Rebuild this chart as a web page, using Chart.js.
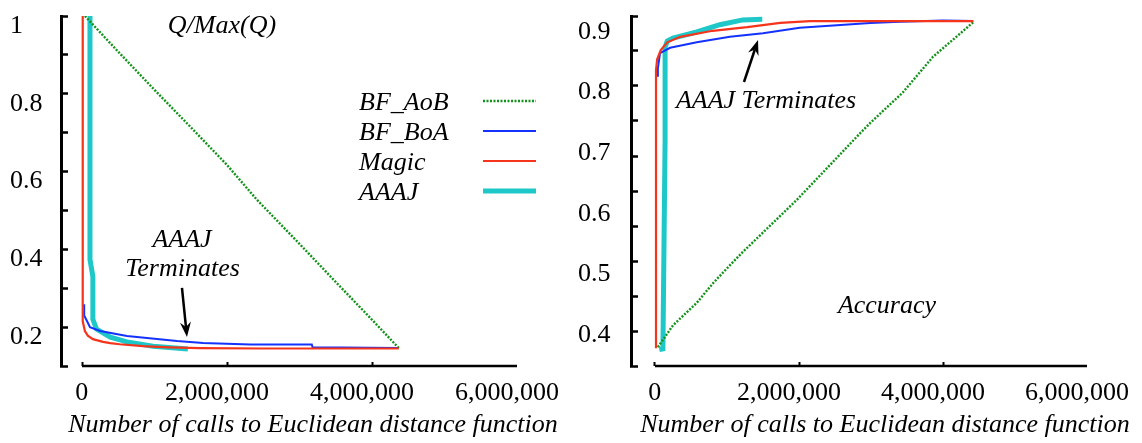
<!DOCTYPE html>
<html lang="en">
<head>
<meta charset="UTF-8">
<title>Q/Max(Q) and Accuracy vs. distance calls</title>
<script src="https://cdn.jsdelivr.net/npm/chart.js"></script>
<style>
  body { margin: 0; background: #fff; }
  .panel { position: absolute; top: 0; width: 571px; height: 443px; }
  #left { left: 0; }
  #right { left: 571px; }
</style>
</head>
<body>
<div class="panel" id="left"><canvas id="qChart" width="571" height="443"></canvas></div>
<div class="panel" id="right"><canvas id="accChart" width="571" height="443"></canvas></div>
<script>
// ---- Q/Max(Q) panel ----
const aobQCalls = [40000, 500000, 1000000, 1500000, 2000000, 2410000, 3000000, 3500000, 4000000, 4370000];
const aobQ      = [1.0, 0.908, 0.81, 0.714, 0.617, 0.528, 0.414, 0.316, 0.219, 0.146];
const boaQCalls = [30000, 30000, 70000, 110000, 250000, 620000, 1310000, 1670000, 2320000, 3170000, 3180000, 4360000];
const boaQ      = [0.259, 0.23, 0.215, 0.2, 0.19, 0.177, 0.164, 0.159, 0.155, 0.155, 0.148, 0.146];
const magicQCalls = [10000, 10000, 40000, 80000, 150000, 290000, 390000, 520000, 840000, 1200000, 1630000, 2500000, 4370000];
const magicQ      = [1.0, 0.215, 0.19, 0.178, 0.169, 0.162, 0.159, 0.156, 0.151, 0.148, 0.146, 0.145, 0.145];
const aaajQCalls = [110000, 110000, 150000, 150000, 200000, 390000, 620000, 980000, 1460000];
const aaajQ      = [1.0, 0.374, 0.33, 0.22, 0.195, 0.174, 0.162, 0.151, 0.144];

// ---- Accuracy panel ----
const aobAccCalls = [40000, 250000, 580000, 810000, 1040000, 1220000, 1970000, 2850000, 2990000, 3440000, 3860000, 4420000];
const aobAcc      = [0.38, 0.416, 0.453, 0.486, 0.515, 0.537, 0.623, 0.733, 0.75, 0.80, 0.859, 0.916];
const boaAccCalls = [40000, 40000, 70000, 210000, 580000, 1040000, 1500000, 2010000, 2990000, 3400000, 4000000, 4420000];
const boaAcc      = [0.826, 0.84, 0.865, 0.874, 0.883, 0.892, 0.898, 0.907, 0.915, 0.917, 0.919, 0.918];
const magicAccCalls = [14000, 14000, 14000, 30000, 80000, 170000, 350000, 800000, 1280000, 1740000, 2150000, 4420000];
const magicAcc      = [0.378, 0.80, 0.837, 0.855, 0.87, 0.883, 0.892, 0.902, 0.908, 0.915, 0.918, 0.918];
const aaajAccCalls = [60000, 110000, 140000, 140000, 170000, 250000, 580000, 900000, 1220000, 1490000];
const aaajAcc      = [0.376, 0.377, 0.72, 0.875, 0.885, 0.89, 0.90, 0.912, 0.92, 0.921];

// axis ticks
const callTicks = [0, 2000000, 4000000, 6000000];
const qTickMarks = [0.1, 0.2, 0.3, 0.4, 0.5, 0.6, 0.7, 0.8, 0.9, 1.0];
const qTickLabels = [0.2, 0.4, 0.6, 0.8, 1.0];
const accTickLabels = [0.4, 0.5, 0.6, 0.7, 0.8, 0.9];

const serif = "'Liberation Serif', 'Times New Roman', serif";
Chart.defaults.font.family = serif;
Chart.defaults.color = '#000';

const styles = {
  aob:   { label: 'BF_AoB', borderColor: '#12921a', borderWidth: 2.4, borderDash: [2, 1.5], order: 3 },
  boa:   { label: 'BF_BoA', borderColor: '#1432ff', borderWidth: 2, order: 2 },
  magic: { label: 'Magic',  borderColor: '#f5341c', borderWidth: 2.2, order: 1 },
  aaaj:  { label: 'AAAJ',   borderColor: '#1ec8c8', borderWidth: 5, order: 4 }
};

function series(style, xs, ys) {
  return Object.assign({
    data: xs.map((x, i) => ({ x: x, y: ys[i] })),
    pointRadius: 0,
    tension: 0,
    fill: false
  }, style);
}

function drawArrow(ctx, x0, y0, x1, y1) {
  const ang = Math.atan2(y1 - y0, x1 - x0);
  const len = 15, half = 5.5, notch = 10;
  ctx.lineWidth = 2.5;
  ctx.beginPath();
  ctx.moveTo(x0, y0);
  ctx.lineTo(x1 - Math.cos(ang) * notch, y1 - Math.sin(ang) * notch);
  ctx.stroke();
  ctx.beginPath();
  ctx.moveTo(x1, y1);
  ctx.lineTo(x1 - Math.cos(ang) * len - Math.sin(ang) * half, y1 - Math.sin(ang) * len + Math.cos(ang) * half);
  ctx.lineTo(x1 - Math.cos(ang) * notch, y1 - Math.sin(ang) * notch);
  ctx.lineTo(x1 - Math.cos(ang) * len + Math.sin(ang) * half, y1 - Math.sin(ang) * len - Math.cos(ang) * half);
  ctx.closePath();
  ctx.fill();
}

// x axis line from 0 to 6M, notes, arrows and the line-style legend
const notesPlugin = {
  id: 'notes',
  afterDraw(chart, args, opts) {
    const { ctx, chartArea } = chart;
    const x = chart.scales.x, y = chart.scales.y;
    ctx.save();
    ctx.strokeStyle = '#000';
    ctx.fillStyle = '#000';
    ctx.lineWidth = 2.5;
    ctx.beginPath();
    ctx.moveTo(x.getPixelForValue(0), chartArea.bottom);
    ctx.lineTo(x.getPixelForValue(callTicks[callTicks.length - 1]), chartArea.bottom);
    ctx.stroke();

    ctx.font = 'italic 26px ' + serif;
    ctx.textAlign = 'center';
    ctx.textBaseline = 'alphabetic';
    (opts.texts || []).forEach(t => ctx.fillText(t.text, x.getPixelForValue(t.x), y.getPixelForValue(t.y)));
    (opts.arrows || []).forEach(a => drawArrow(ctx,
      x.getPixelForValue(a.x0), y.getPixelForValue(a.y0),
      x.getPixelForValue(a.x1), y.getPixelForValue(a.y1)));

    if (opts.legend) {
      const lg = opts.legend;
      ctx.textAlign = 'left';
      chart.data.datasets.forEach((ds, i) => {
        const base = lg.top + i * lg.step;
        ctx.fillStyle = '#000';
        ctx.fillText(ds.label, lg.left, base);
        ctx.strokeStyle = ds.borderColor;
        ctx.lineWidth = ds.borderWidth;
        ctx.setLineDash(ds.borderDash || []);
        ctx.beginPath();
        ctx.moveTo(lg.lineLeft, base - 9);
        ctx.lineTo(lg.lineRight, base - 9);
        ctx.stroke();
        ctx.setLineDash([]);
      });
    }
    ctx.restore();
  }
};

function xScale(min, max) {
  return {
    type: 'linear',
    min: min,
    max: max,
    afterBuildTicks: s => { s.ticks = callTicks.map(v => ({ value: v })); },
    afterFit: s => {
      s.height = 77;
      s.paddingLeft = 0;
      s.paddingRight = 0;
    },
    border: { display: false },
    grid: {
      drawOnChartArea: false,
      tickLength: -4,
      tickWidth: 2,
      tickColor: c => (c.tick && c.tick.value < 6000000) ? '#000' : 'rgba(0,0,0,0)'
    },
    ticks: {
      font: { size: 26 },
      color: '#000',
      padding: 16,
      maxRotation: 0,
      autoSkip: false,
      labelOffset: -10,
      callback: v => v === 0 ? '   0' : v.toLocaleString('en-US')
    },
    title: {
      display: true,
      text: 'Number of calls to Euclidean distance function',
      font: { size: 26, style: 'italic' },
      color: '#000',
      padding: { top: 0, bottom: 2 }
    }
  };
}

function yScale(min, max, marks, labels, width, labelOffset, fmt) {
  const isLabel = v => labels.some(l => Math.abs(l - v) < 1e-9);
  const isMark = v => marks.some(m => Math.abs(m - v) < 1e-9);
  const all = marks.concat(labels.filter(l => !isMark(l))).sort((a, b) => a - b);
  return {
    type: 'linear',
    min: min,
    max: max,
    afterBuildTicks: s => { s.ticks = all.map(v => ({ value: v })); },
    afterFit: s => {
      s.width = width;
      s.paddingTop = 0;
      s.paddingBottom = 0;
    },
    border: { display: true, color: '#000', width: 3 },
    grid: {
      drawOnChartArea: false,
      tickLength: -7,
      tickWidth: 2.5,
      tickColor: c => (c.tick && isMark(c.tick.value)) ? '#000' : 'rgba(0,0,0,0)'
    },
    ticks: {
      font: { size: 26 },
      color: '#000',
      crossAlign: 'far',
      autoSkip: false,
      labelOffset: labelOffset,
      callback: v => isLabel(v) ? fmt(v) : ''
    }
  };
}

new Chart(document.getElementById('qChart'), {
  type: 'line',
  data: {
    datasets: [
      series(styles.aob, aobQCalls, aobQ),
      series(styles.boa, boaQCalls, boaQ),
      series(styles.magic, magicQCalls, magicQ),
      series(styles.aaaj, aaajQCalls, aaajQ)
    ]
  },
  options: {
    responsive: false,
    animation: false,
    layout: { padding: { left: 10, top: 16, right: 6, bottom: 0 } },
    scales: {
      x: xScale(-289700, 6662000),
      y: yScale(0.1, 1.0, qTickMarks, qTickLabels, 51, 10, v => v === 1 ? '1' : v.toFixed(1))
    },
    plugins: {
      legend: { display: false },
      tooltip: { enabled: false },
      notes: {
        texts: [
          { text: 'Q/Max(Q)', x: 1931000, y: 0.956 },
          { text: 'AAAJ', x: 1379000, y: 0.406 },
          { text: 'Terminates', x: 1386000, y: 0.3315 }
        ],
        arrows: [{ x0: 1379000, y0: 0.3006, x1: 1448000, y1: 0.1746 }],
        legend: { left: 359, top: 110, step: 30, lineLeft: 483, lineRight: 536 }
      }
    }
  },
  plugins: [notesPlugin]
});

const accMin = 0.3488, accMax = 0.9264;
const accTickMarks = [];
for (let i = 0; i <= 10; i++) accTickMarks.push(accMin + (accMax - accMin) * i / 10);

new Chart(document.getElementById('accChart'), {
  type: 'line',
  data: {
    datasets: [
      series(styles.aob, aobAccCalls, aobAcc),
      series(styles.boa, boaAccCalls, boaAcc),
      series(styles.magic, magicAccCalls, magicAcc),
      series(styles.aaaj, aaajAccCalls, aaajAcc)
    ]
  },
  options: {
    responsive: false,
    animation: false,
    layout: { padding: { left: 7, top: 16, right: 3, bottom: 0 } },
    scales: {
      x: xScale(-333300, 6722000),
      y: yScale(accMin, accMax, accTickMarks, accTickLabels, 53, 0, v => v.toFixed(1))
    },
    plugins: {
      legend: { display: false },
      tooltip: { enabled: false },
      notes: {
        texts: [
          { text: 'AAAJ Terminates', x: 1542000, y: 0.7746 },
          { text: 'Accuracy', x: 3222000, y: 0.4363 }
        ],
        arrows: [{ x0: 1236000, y0: 0.8175, x1: 1431000, y1: 0.8868 }]
      }
    }
  },
  plugins: [notesPlugin]
});
</script>
</body>
</html>
